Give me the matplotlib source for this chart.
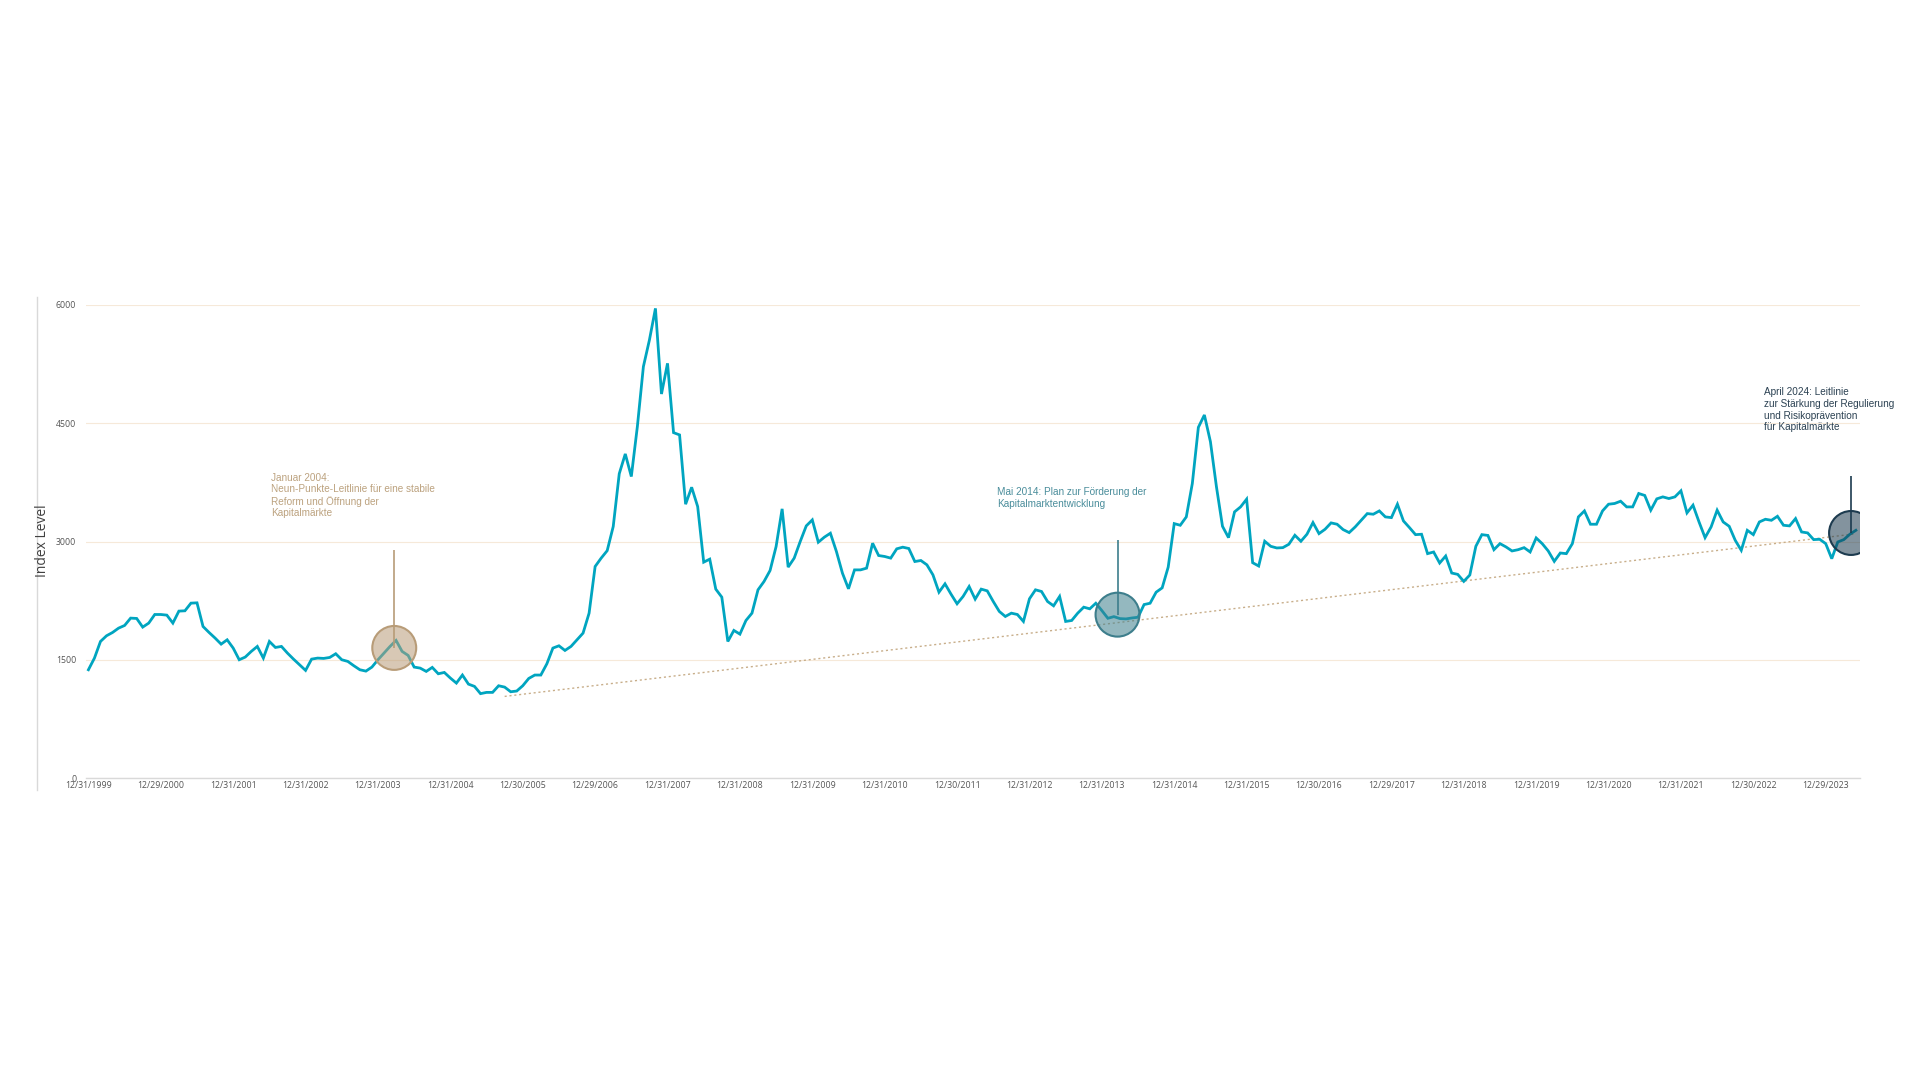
import numpy as np
import matplotlib
matplotlib.use("Agg")
import matplotlib.pyplot as plt
from matplotlib.lines import Line2D

# monthly index level, Dec 1999 .. May 2024
index_level = [
    1373, 1521, 1732, 1804, 1846, 1901, 1935, 2028, 2024, 1914, 1965, 2074,
    2074, 2066, 1965, 2117, 2121, 2218, 2222, 1922, 1846, 1775, 1698, 1753,
    1648, 1500, 1534, 1606, 1669, 1521, 1732, 1656, 1669, 1584, 1508, 1437,
    1365, 1508, 1521, 1517, 1529, 1576, 1500, 1479, 1424, 1373, 1356, 1407,
    1500, 1584, 1669, 1745, 1606, 1555, 1407, 1394, 1352, 1403, 1322, 1339,
    1268, 1204, 1306, 1191, 1162, 1070, 1086, 1086, 1170, 1153, 1094, 1103,
    1170, 1263, 1306, 1306, 1449, 1648, 1677, 1618, 1669, 1753, 1838, 2091,
    2683, 2789, 2884, 3190, 3860, 4111, 3824, 4457, 5218, 5556, 5957, 4871,
    5260, 4381, 4352, 3473, 3688, 3443, 2738, 2776, 2396, 2294, 1732, 1872,
    1825, 1998, 2091, 2387, 2493, 2632, 2936, 3414, 2675, 2789, 3000, 3198,
    3274, 2991, 3055, 3105, 2873, 2598, 2400, 2640, 2640, 2662, 2978, 2822,
    2810, 2789, 2907, 2928, 2911, 2746, 2759, 2704, 2577, 2357, 2463, 2332,
    2210, 2303, 2429, 2269, 2396, 2374, 2239, 2113, 2049, 2091, 2074, 1986,
    2273, 2387, 2366, 2239, 2184, 2303, 1986, 1998, 2091, 2167, 2146, 2217,
    2124, 2026, 2047, 2022, 2018, 2030, 2039, 2200, 2217, 2357, 2412, 2675,
    3227, 3206, 3312, 3736, 4448, 4605, 4266, 3693, 3193, 3049, 3376, 3439,
    3537, 2731, 2689, 3003, 2939, 2918, 2922, 2965, 3079, 3003, 3092, 3240,
    3100, 3155, 3236, 3219, 3151, 3113, 3185, 3270, 3354, 3346, 3388, 3312,
    3303, 3473, 3261, 3176, 3087, 3092, 2846, 2867, 2727, 2816, 2600, 2583,
    2494, 2575, 2939, 3087, 3077, 2896, 2973, 2931, 2880, 2896, 2922, 2867,
    3045, 2973, 2880, 2748, 2854, 2846, 2973, 3312, 3388, 3219, 3219, 3388,
    3473, 3482, 3511, 3439, 3439, 3609, 3584, 3397, 3541, 3566, 3545, 3566,
    3643, 3363, 3461, 3248, 3049, 3185, 3397, 3248, 3193, 3015, 2888, 3142,
    3087, 3248, 3282, 3269, 3320, 3206, 3198, 3291, 3121, 3109, 3024, 3028,
    2973, 2782, 2994, 3024, 3092, 3142,
]

tick_labels = [
    "12/31/1999", "12/29/2000", "12/31/2001", "12/31/2002", "12/31/2003",
    "12/31/2004", "12/30/2005", "12/29/2006", "12/31/2007", "12/31/2008",
    "12/31/2009", "12/31/2010", "12/30/2011", "12/31/2012", "12/31/2013",
    "12/31/2014", "12/31/2015", "12/30/2016", "12/29/2017", "12/31/2018",
    "12/31/2019", "12/31/2020", "12/31/2021", "12/30/2022", "12/29/2023",
]
y_ticks = [0, 1500, 3000, 4500, 6000]

# dotted trend line (month index, level)
trend_x = [69, 293]
trend_y = [1035, 3098]

# policy events: circle position, top of the stem, text anchor, text
event_x = [50.7, 170.6, 292.2]
event_y = [1650, 2072, 3108]
stem_top = [2898, 3013, 3830]
text_x = [30.3, 150.7, 277.7]
text_y = [3875, 3690, 4955]
event_text = [
    "Januar 2004:\nNeun-Punkte-Leitlinie für eine stabile\nReform und Öffnung der\nKapitalmärkte",
    "Mai 2014: Plan zur Förderung der\nKapitalmarktentwicklung",
    "April 2024: Leitlinie\nzur Stärkung der Regulierung\nund Risikoprävention\nfür Kapitalmärkte",
]
event_color = ["#B89C78", "#3D7E8C", "#1D3B4F"]
text_color = ["#BCA27F", "#4A8D9B", "#2B4152"]

line_color = "#00A5C0"
months = np.arange(len(index_level))

fig = plt.figure(figsize=(19.2, 10.8), dpi=100)
ax = fig.add_axes([86 / 1920, 1 - 778 / 1080, (1859.5 - 86) / 1920, (778 - 305) / 1080])

ax.plot(months, index_level, color=line_color, lw=2.0, zorder=3, solid_joinstyle="miter")
ax.plot(trend_x, trend_y, color="#C8AE8A", lw=1.0, ls=(0, (1.5, 2.0)), zorder=2)

for i in range(len(event_x)):
    ax.plot([event_x[i], event_x[i]], [event_y[i], stem_top[i]], color=event_color[i],
            lw=1.2, zorder=4, solid_capstyle="butt")
    ax.scatter([event_x[i]], [event_y[i]], s=1000, facecolor=event_color[i], alpha=0.55,
               edgecolor="none", zorder=5)
    ax.scatter([event_x[i]], [event_y[i]], s=1000, facecolor="none",
               edgecolor=event_color[i], linewidth=1.5, zorder=6)
    ax.text(text_x[i], text_y[i], event_text[i], color=text_color[i], fontsize=7.2,
            family=["Liberation Sans Narrow", "Liberation Sans"], va="top", ha="left",
            linespacing=1.2, zorder=7)

ax.set_xlim(-0.4, 293.6)
ax.set_ylim(0, 6000)
ax.set_yticks(y_ticks)
ax.set_yticklabels([str(v) for v in y_ticks])
ax.set_xticks(np.arange(0, 12 * len(tick_labels), 12))
ax.set_xticklabels(tick_labels)
ax.tick_params(axis="both", length=0, labelsize=6.3, labelcolor="#555555")
ax.tick_params(axis="y", pad=7)
ax.tick_params(axis="x", pad=2.5)
for lab in ax.get_xticklabels() + ax.get_yticklabels():
    lab.set_family("Open Sans")

ax.grid(axis="y", color="#F6E9D9", lw=0.8)
ax.set_axisbelow(True)
for side in ["left", "right", "top"]:
    ax.spines[side].set_visible(False)
ax.spines["bottom"].set_color("#D9D9D9")
ax.spines["bottom"].set_linewidth(1.0)

# separate vertical rule left of the value axis
fig.add_artist(Line2D([37 / 1920, 37 / 1920], [1 - 297 / 1080, 1 - 790 / 1080],
                      transform=fig.transFigure, color="#D9D9D9", lw=1.0))
fig.text(43 / 1920, 1 - 541 / 1080, "Index Level", rotation=90, ha="center", va="center",
         fontsize=10, color="#404040", family="Open Sans")

fig.savefig("out.png", dpi=100, facecolor="white")
